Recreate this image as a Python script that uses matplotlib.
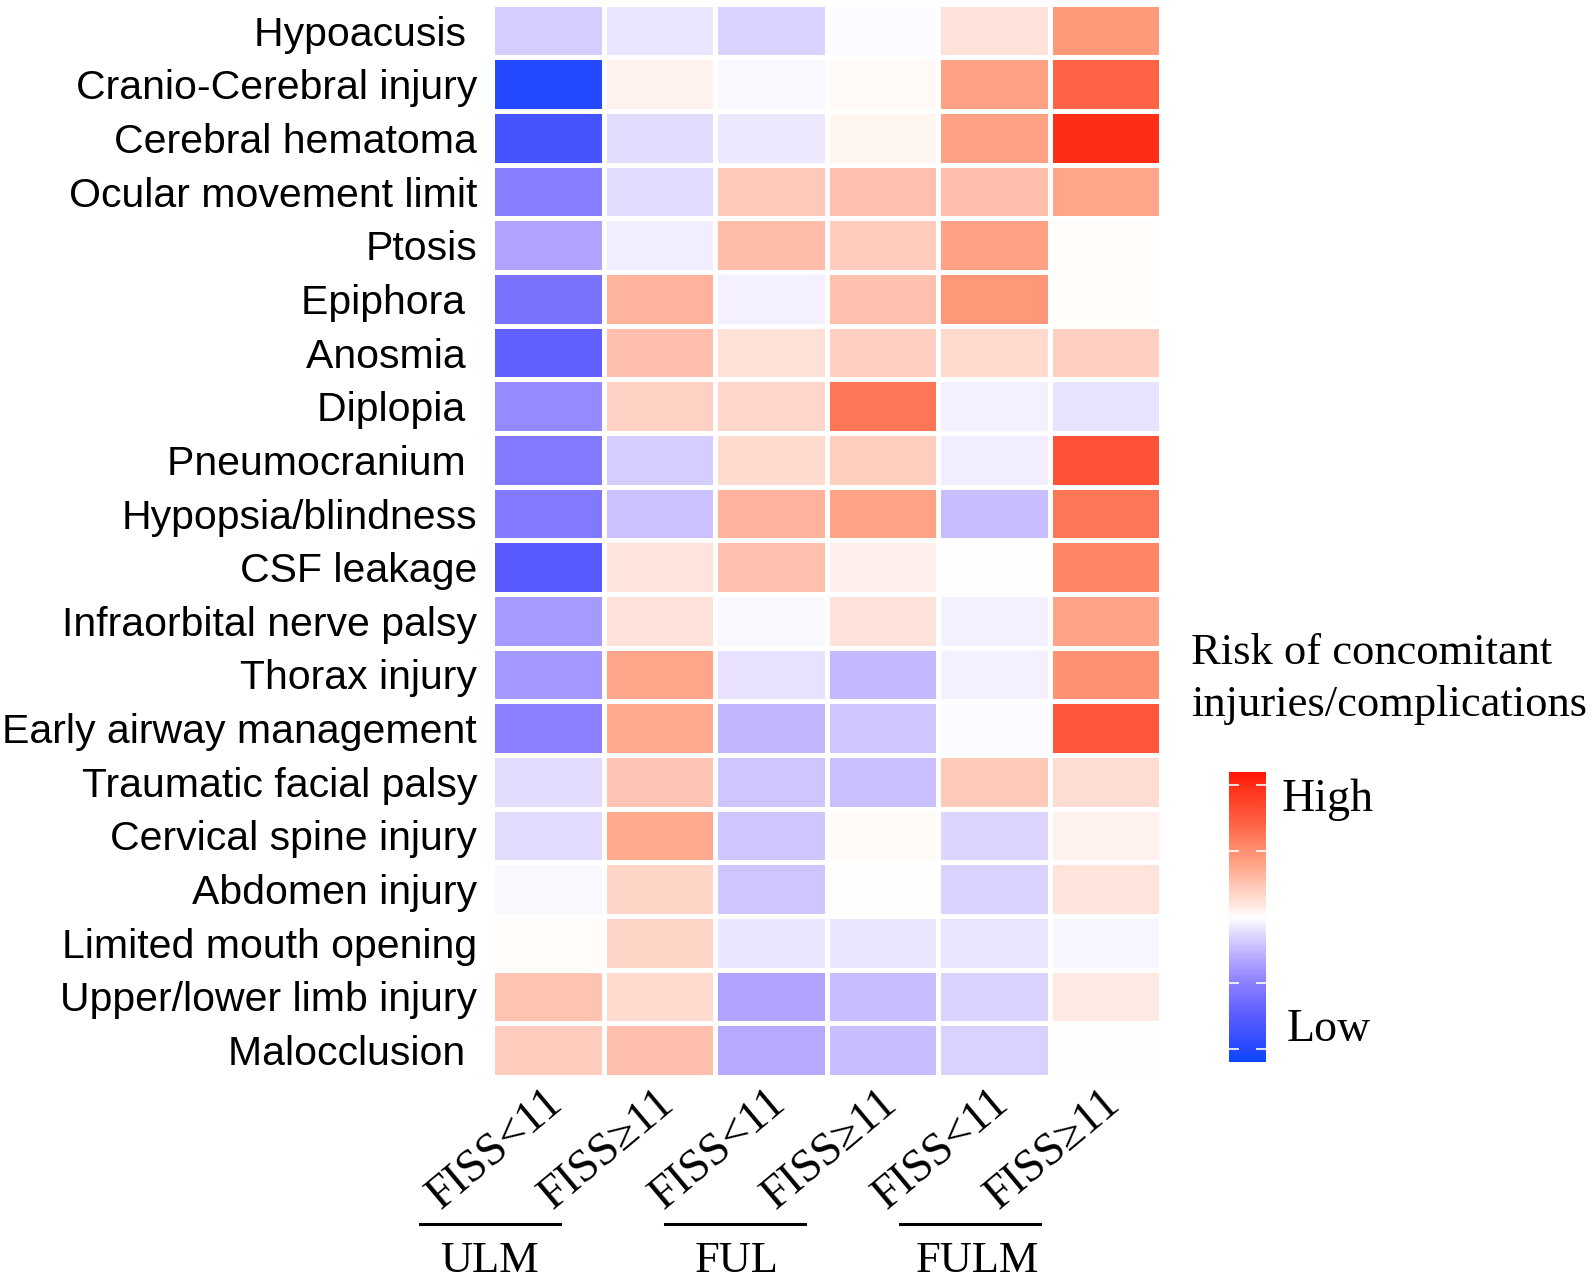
import numpy as np
import matplotlib.pyplot as plt
from matplotlib.colors import LinearSegmentedColormap, Normalize
from matplotlib.lines import Line2D
import matplotlib.transforms as mtransforms

# rows (top to bottom)
injuries = ['Hypoacusis ', 'Cranio-Cerebral injury', 'Cerebral hematoma',
            'Ocular movement limit', 'Ptosis', 'Epiphora ', 'Anosmia ',
            'Diplopia ', 'Pneumocranium ', 'Hypopsia/blindness', 'CSF leakage',
            'Infraorbital nerve palsy', 'Thorax injury', 'Early airway management',
            'Traumatic facial palsy', 'Cervical spine injury', 'Abdomen injury',
            'Limited mouth opening', 'Upper/lower limb injury', 'Malocclusion ']

columns = ['FISS<11', 'FISS≥11', 'FISS<11', 'FISS≥11', 'FISS<11', 'FISS≥11']
groups = ['ULM', 'FUL', 'FULM']

# relative risk score per column
ulm_lt = [-0.18, -1.00, -0.85, -0.52, -0.34, -0.60, -0.73, -0.45, -0.54, -0.55,
          -0.76, -0.38, -0.39, -0.50, -0.12, -0.12, -0.02, 0.015, 0.26, 0.22]
ulm_ge = [-0.08, 0.05, -0.12, -0.12, -0.06, 0.33, 0.28, 0.19, -0.18, -0.22,
          0.10, 0.11, 0.39, 0.37, 0.25, 0.37, 0.18, 0.18, 0.15, 0.28]
ful_lt = [-0.15, -0.02, -0.07, 0.24, 0.29, -0.05, 0.12, 0.17, 0.15, 0.33,
          0.27, -0.02, -0.10, -0.26, -0.20, -0.20, -0.20, -0.08, -0.34, -0.31]
ful_ge = [-0.01, 0.02, 0.04, 0.27, 0.22, 0.27, 0.20, 0.62, 0.21, 0.41,
          0.06, 0.11, -0.25, -0.20, -0.23, 0.02, 0.00, -0.08, -0.24, -0.24]
fulm_lt = [0.11, 0.42, 0.42, 0.28, 0.42, 0.47, 0.15, -0.05, -0.06, -0.24,
           0.00, -0.05, -0.05, -0.01, 0.24, -0.14, -0.15, -0.08, -0.15, -0.16]
fulm_ge = [0.46, 0.70, 1.00, 0.39, 0.01, 0.01, 0.20, -0.09, 0.80, 0.62,
           0.55, 0.40, 0.50, 0.78, 0.14, 0.05, 0.10, -0.03, 0.08, 0.005]

values = np.column_stack([ulm_lt, ulm_ge, ful_lt, ful_ge, fulm_lt, fulm_ge])

vmin, vmax = -1.1, 1.1
nodes = [(-1.1, '#0a46ff'), (-1.0, '#2649ff'), (-0.75, '#5c5cff'), (-0.5, '#8a80ff'),
         (-0.35, '#ada1ff'), (-0.2, '#d0c6ff'), (-0.08, '#ece6ff'), (0.0, '#ffffff'),
         (0.1, '#ffe4dc'), (0.24, '#ffc8b8'), (0.4, '#ffa488'), (0.55, '#ff8866'),
         (0.7, '#ff6446'), (1.0, '#ff2e17'), (1.1, '#ff1208')]
cmap = LinearSegmentedColormap.from_list(
    'risk', [((v - vmin) / (vmax - vmin), c) for v, c in nodes])

serif = ['Liberation Serif', 'DejaVu Serif']
sans = ['Liberation Sans', 'DejaVu Sans']

fig = plt.figure(figsize=(15.93, 12.82), dpi=100)
ax = fig.add_axes([0.309, 0.160, 0.420, 0.837])

mesh = ax.pcolormesh(values, cmap=cmap, norm=Normalize(vmin, vmax),
                     edgecolors='white', linewidth=2.5)
ax.set_xlim(0, values.shape[1])
ax.set_ylim(values.shape[0], 0)
for s in ax.spines.values():
    s.set_visible(False)

ax.set_yticks(np.arange(len(injuries)) + 0.5)
ax.set_yticklabels(injuries, fontsize=29.5, family=sans)
ax.tick_params(axis='y', length=0, pad=11)

ax.set_xticks(np.arange(len(columns)) + 0.5)
ax.set_xticklabels(columns, fontsize=33, family=serif, rotation=40,
                   ha='right', va='top', rotation_mode='anchor')
ax.tick_params(axis='x', length=0, pad=3)
shift = mtransforms.ScaledTranslation(-0.04, 0, fig.dpi_scale_trans)
for lbl in ax.get_xticklabels():
    lbl.set_transform(lbl.get_transform() + shift)

# group brackets under the tick labels
line_x = [(0.2637, 0.3515), (0.4175, 0.5053), (0.565, 0.6529)]
label_x = [0.307, 0.4626, 0.6133]
for name, (x0, x1), xc in zip(groups, line_x, label_x):
    fig.add_artist(Line2D([x0, x1], [0.0452, 0.0452], color='black', lw=2.2))
    fig.text(xc, 0.001, name, ha='center', va='bottom', fontsize=32, family=serif)

# colour bar
cax = fig.add_axes([0.7715, 0.1716, 0.0232, 0.2262])
cb = fig.colorbar(mesh, cax=cax, ticks=[-1, -0.5, 0.5, 1])
cb.outline.set_visible(False)
cax.tick_params(axis='y', direction='in', color='white', length=7, width=1.2,
                left=True, right=True, labelleft=False, labelright=False)

fig.text(0.7476, 0.5065, 'Risk of concomitant\ninjuries/complications',
         ha='left', va='top', fontsize=32, family=serif, linespacing=1.4)
fig.text(0.8048, 0.3760, 'High', ha='left', va='center', fontsize=33, family=serif)
fig.text(0.8079, 0.1965, 'Low', ha='left', va='center', fontsize=33, family=serif)

fig.savefig('out.png', dpi=100)
